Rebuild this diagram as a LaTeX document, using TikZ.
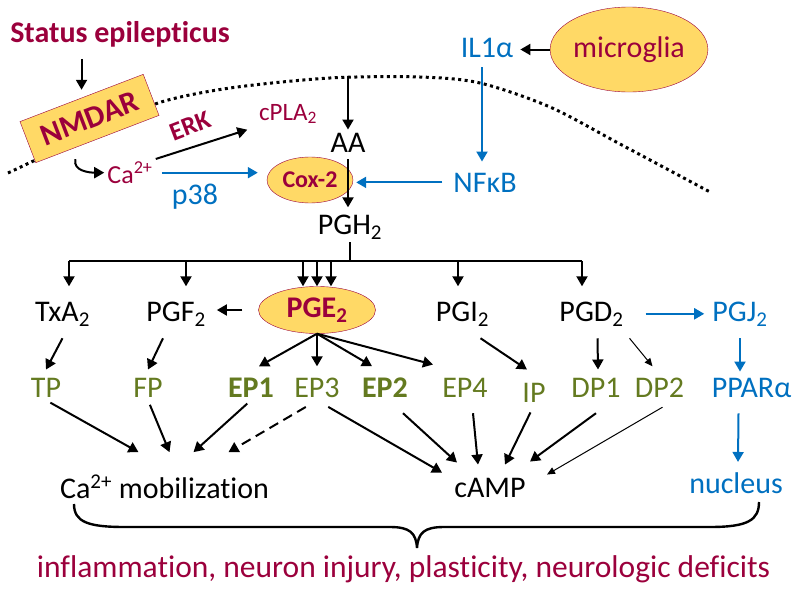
\documentclass[tikz,border=0pt]{standalone}
\usepackage{fontspec}
\setmainfont{Carlito}[Ligatures=NoCommon]
\usetikzlibrary{arrows.meta,shapes.geometric}

\definecolor{wine}{RGB}{155,0,60}
\definecolor{sblue}{RGB}{0,112,192}
\definecolor{rgreen}{RGB}{100,122,32}
\definecolor{pale}{RGB}{255,217,102}

\newcommand{\lo}[1]{\textsubscript{#1}}
\newcommand{\hi}[1]{\textsuperscript{#1}}
\newcommand{\fs}[1]{\fontsize{#1}{#1}\selectfont}

\tikzset{
  lbl/.style={anchor=base, inner sep=3pt, font=\fs{30}},
  rcp/.style={lbl, text=rgreen},
  blu/.style={lbl, text=sblue},
  arr/.style={-{Triangle[length=10pt,width=11pt]}, line width=2pt},
  farr/.style={-{Triangle[length=8pt,width=7pt]}, line width=1pt},
  blob/.style={ellipse, draw=wine, fill=pale, text=wine, inner sep=0pt},
  memb/.style={line width=3pt, dash pattern=on 3pt off 3.5pt}
}

\begin{document}
\begin{tikzpicture}[x=1pt,y=-1pt]
\useasboundingbox (0,0) rectangle (800,589);

% membrane
\draw[memb] plot[smooth] coordinates {(8,173) (95,132) (158,103) (230,88) (330,78) (420,77) (480,83) (550,107) (620,144) (710,192)};

\node [lbl, text=wine, font=\fs{30}\bfseries] (status) at (120,42) {Status epilepticus};
\node [rotate=21, draw=wine, fill=pale, text=wine, font=\fs{31}\bfseries, minimum width=132pt, minimum height=44pt, inner sep=0pt] (nmdar) at (89.5,118.5) {NMDAR};
\node [lbl, text=wine, font=\fs{26}] (ca) at (130,183) {Ca\hi{2+}};
\node [text=wine, font=\fs{26}\bfseries, rotate=21] (erk) at (190,126) {ERK};
\node [lbl, text=wine, font=\fs{25}] (cpla) at (288,120) {cPLA\lo{2}};
\node [blob, font=\fs{24}\bfseries, minimum width=86pt, minimum height=46pt] (cox) at (310,180) {Cox-2};
\node [lbl] (aa) at (348,152) {AA};
\node [lbl] (pgh) at (350,234) {PGH\lo{2}};
\node [blu] (p38) at (195,204) {p38};
\node [blu] (nfkb) at (485,192) {NFκB};
\node [blu] (il1) at (487,57) {IL1α};
\node [blob, font=\fs{30}, minimum width=140pt, minimum height=85pt] (mg) at (629,49.5) {microglia};

\node [lbl] (tx) at (62.5,321) {TxA\lo{2}};
\node [lbl] (pgf) at (176,321) {PGF\lo{2}};
\node [blob, font=\fs{30}\bfseries, minimum width=117pt, minimum height=47pt] (pge) at (317,310) {PGE\lo{2}};
\node [lbl] (pgi) at (462.5,321) {PGI\lo{2}};
\node [lbl] (pgd) at (591.5,321) {PGD\lo{2}};
\node [blu] (pgj) at (740,321) {PGJ\lo{2}};

\node [rcp] (tp) at (46,397) {TP};
\node [rcp] (fp) at (148,397) {FP};
\node [rcp, font=\fs{30}\bfseries] (ep1) at (251,397) {EP1};
\node [rcp] (ep3) at (317,397) {EP3};
\node [rcp, font=\fs{30}\bfseries] (ep2) at (385,397) {EP2};
\node [rcp] (ep4) at (465,397) {EP4};
\node [rcp] (ip) at (534,402) {IP};
\node [rcp] (dp1) at (596,397) {DP1};
\node [rcp] (dp2) at (659.5,397) {DP2};
\node [blu] (ppar) at (751.5,397) {PPARα};

\node [lbl] (camob) at (164.5,498) {Ca\hi{2+} mobilization};
\node [lbl] (camp) at (490,497) {cAMP};
\node [blu] (nucleus) at (736,493) {nucleus};
\node [lbl, text=wine, font=\fs{31.5}] (effects) at (403.5,577) {inflammation, neuron injury, plasticity, neurologic deficits};

% top part
\draw[arr, shorten <=9pt, shorten >=8pt] (status.south -| nmdar.north) to (nmdar.north);
\draw[arr] ([xshift=-22pt,yshift=-20pt]nmdar.south) .. controls +(-3,12) and +(-14,0) .. (ca.west);
\draw[arr, shorten >=9pt] (ca.north east) to (cpla.south west);
\draw[arr, color=sblue, shorten <=6pt, shorten >=9pt] (ca.east) to (ca.east -| cox.west);
\coordinate (aatop) at (348,76);
\draw[arr] (aatop) to (aa.north);
\draw[arr, shorten <=4pt, shorten >=4pt] (aa.south) to (aa.south |- pgh.north);
\draw[arr, color=sblue, shorten <=7pt, shorten >=8pt] ([xshift=-5pt]il1.south) to ([xshift=-5pt]il1.south |- nfkb.north);
\draw[arr, shorten >=4pt] (mg.west) to (mg.west -| il1.east);
\draw[arr, color=sblue, shorten <=8pt, shorten >=3pt] (nfkb.west) to (nfkb.west -| cox.east);

% PGH2 branches
\coordinate (brl) at (69,261);
\coordinate (brr) at (582,261);
\coordinate (tapf) at (186,261);
\coordinate (tapi) at (458,261);
\draw[line width=2pt] (pgh.south) to (pgh.south |- brl);
\draw[line width=2pt] (brl) to (brr);
\draw[arr] (brl) to (brl |- pge.north);
\draw[arr] (tapf) to (tapf |- pge.north);
\draw[arr] ([xshift=-14pt]pge.north |- brl) to ([xshift=-14pt]pge.north);
\draw[arr] (pge.north |- brl) to (pge.north);
\draw[arr] ([xshift=14pt]pge.north |- brl) to ([xshift=14pt]pge.north);
\draw[arr] (tapi) to (tapi |- pge.north);
\draw[arr] (brr) to (brr |- pge.north);

\draw[arr, shorten <=16pt, shorten >=8pt] (pge.west) to (pge.west -| pgf.east);
\draw[arr, color=sblue, shorten <=19pt, shorten >=5pt] (pgd.east) to (pgd.east -| pgj.west);

% receptors
\draw[arr] ([yshift=-9pt]tx.south) to ([yshift=5pt]tp.north);
\draw[arr] ([xshift=-13pt,yshift=-9pt]pgf.south) to ([yshift=5pt]fp.north);
\draw[arr] (pge.south) to ([xshift=8pt,yshift=8pt]ep1.north);
\draw[arr] (pge.south) to ([yshift=8pt]ep3.north);
\draw[arr] (pge.south) to ([xshift=-13pt,yshift=8pt]ep2.north);
\draw[arr] (pge.south) to ([xshift=-32pt,yshift=10pt]ep4.north);
\draw[arr] ([xshift=18pt,yshift=-9pt]pgi.south) to ([xshift=-7pt,yshift=10pt]ip.north);
\draw[arr] ([xshift=6pt,yshift=-9pt]pgd.south) to ([xshift=2pt,yshift=5pt]dp1.north);
\draw[farr] ([xshift=38pt,yshift=-9pt]pgd.south) to ([xshift=-7pt,yshift=8pt]dp2.north);
\draw[arr, color=sblue, shorten <=9pt, shorten >=3pt] (pgj.south) to (pgj.south |- ppar.north);

% second messengers
\draw[arr, shorten <=5pt] (tp.south) to ([xshift=-26pt,yshift=20pt]camob.north);
\draw[arr, shorten <=5pt] (fp.south) to ([xshift=5pt,yshift=20pt]camob.north);
\draw[arr, shorten <=5pt] (ep1.south) to ([xshift=29pt,yshift=20pt]camob.north);
\draw[arr, dash pattern=on 10pt off 6pt, shorten <=13pt] (ep3.south) to ([xshift=64pt,yshift=20pt]camob.north);
\draw[arr, shorten <=13pt] (ep3.south) to ([xshift=-48pt,yshift=2pt]camp.north);
\draw[arr] ([xshift=18pt,yshift=-13pt]ep2.south) to ([xshift=-33pt,yshift=12pt]camp.north);
\draw[arr] ([xshift=8pt,yshift=-13pt]ep4.south) to ([xshift=-12pt,yshift=10pt]camp.north);
\draw[arr, shorten <=8pt] (ip.south) to ([xshift=15pt,yshift=10pt]camp.north);
\draw[arr] ([yshift=-13pt]dp1.south) to ([xshift=40pt,yshift=13pt]camp.north);
\draw[farr] ([xshift=3pt,yshift=-7pt]dp2.south) to ([xshift=57pt]camp.north);
\draw[arr, color=sblue] ([xshift=-13pt,yshift=-13pt]ppar.south) to ([xshift=2pt,yshift=7pt]nucleus.north);

% brace
\draw[line width=2.4pt] (74,504) .. controls (74,522) and (88,527) .. (125,527) -- (390,527) .. controls (410,527) and (416,533) .. (417,548) .. controls (418,533) and (424,527) .. (444,527) -- (710,527) .. controls (748,527) and (759,520) .. (759,502);
\end{tikzpicture}
\end{document}
